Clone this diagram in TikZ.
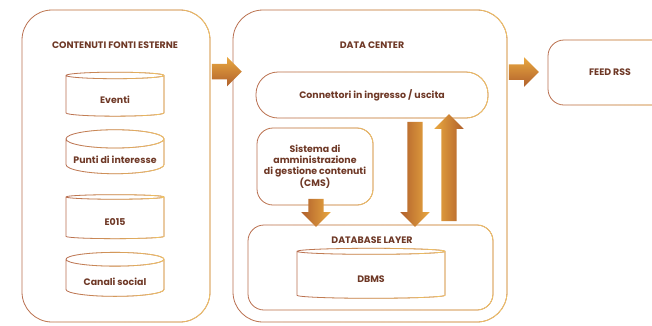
\documentclass[tikz,border=0pt]{standalone}
\usepackage{fontspec}
\setmainfont{Poppins}
\usetikzlibrary{shapes.geometric,shapes.arrows,fadings,calc}
\definecolor{bordo}{HTML}{B86E50}
\definecolor{oro}{HTML}{F2C766}
\definecolor{testo}{HTML}{6E3826}
\definecolor{scuro}{HTML}{B0602C}
\definecolor{chiaro}{HTML}{E9A840}
\tikzset{
  testi/.style={font=\bfseries\fontsize{9.4}{11}\selectfont, text=testo, align=center},
  box/.style={rounded corners=#1, draw=bordo, line width=0.8pt, inner sep=0, testi,
    postaction={draw=oro, path fading=west}},
  cil/.style={cylinder, shape border rotate=90, aspect=0.22, draw=bordo, line width=0.8pt,
    inner sep=0, text height=15pt, text depth=1pt, testi, postaction={draw=oro, path fading=west}},
  titolo/.style={testi},
  freccia/.style={single arrow, draw=none, inner sep=7.5, single arrow head extend=7,
    left color=scuro, right color=chiaro},
  frecciah/.style={freccia, top color=chiaro, bottom color=scuro},
  frecciasu/.style={freccia, shape border rotate=90, left color=chiaro, right color=scuro}
}
\begin{document}
\begin{tikzpicture}[x=1pt,y=-1pt]
\useasboundingbox (0,0) rectangle (652,325);
\clip (0,0) rectangle (652,325);
% fonti esterne
\node[box=30, minimum width=188, minimum height=312] (fonti) at (116,166) {};
\node[titolo] (tfonti) at (115,45) {CONTENUTI FONTI ESTERNE};
\foreach \y/\t [count=\i] in {96/Eventi, 156.5/Punti di interesse, 218/E015, 278/Canali social}
  \node[cil, minimum width=98, minimum height=44] (c\i) at (115,\y) {\t};
% data center
\node[box=30, minimum width=274, minimum height=312] (dc) at (370,166) {};
\node[titolo] (tdc) at (372,45) {DATA CENTER};
\node[box=22, minimum width=232, minimum height=46] (conn) at (372,95) {Connettori in ingresso / uscita};
\node[box=16, minimum width=116, minimum height=77] (cms) at (315,166.5)
  {Sistema di\\amministrazione\\di gestione contenuti\\(CMS)};
\node[box=16, minimum width=245, minimum height=85] (db) at (370.5,267.5) {};
\node[titolo] (tdb) at (372,240) {DATABASE LAYER};
\node[cil, minimum width=148, minimum height=50] (dbms) at (371,275) {DBMS};
% feed
\node[box=16, minimum width=124, minimum height=65] (rss) at (610,72.5) {FEED RSS};
% frecce
\path ($(fonti.north east)+(-2,62)$) -- ($(dc.north west)+(5,62)$) node[midway, frecciah, minimum height=30] {};
\path ($(dc.north east)+(-2,62)$) -- ($(rss.west)+(-13,0)$) node[midway, frecciah, minimum height=30] {};
\path ($(cms.south)+(1,-10)$) -- ($(db.north)+(-54.5,-2)$) node[midway, freccia, shape border rotate=270, minimum height=28] {};
\path ($(conn.south)+(43,0)$) -- ($(db.north)+(44.5,-2)$) node[midway, freccia, shape border rotate=270, minimum height=105] {};
\path ($(db.north)+(78.5,0)$) -- ($(conn.south)+(77,0)$) node[midway, frecciasu, minimum height=107] {};
\end{tikzpicture}
\end{document}
